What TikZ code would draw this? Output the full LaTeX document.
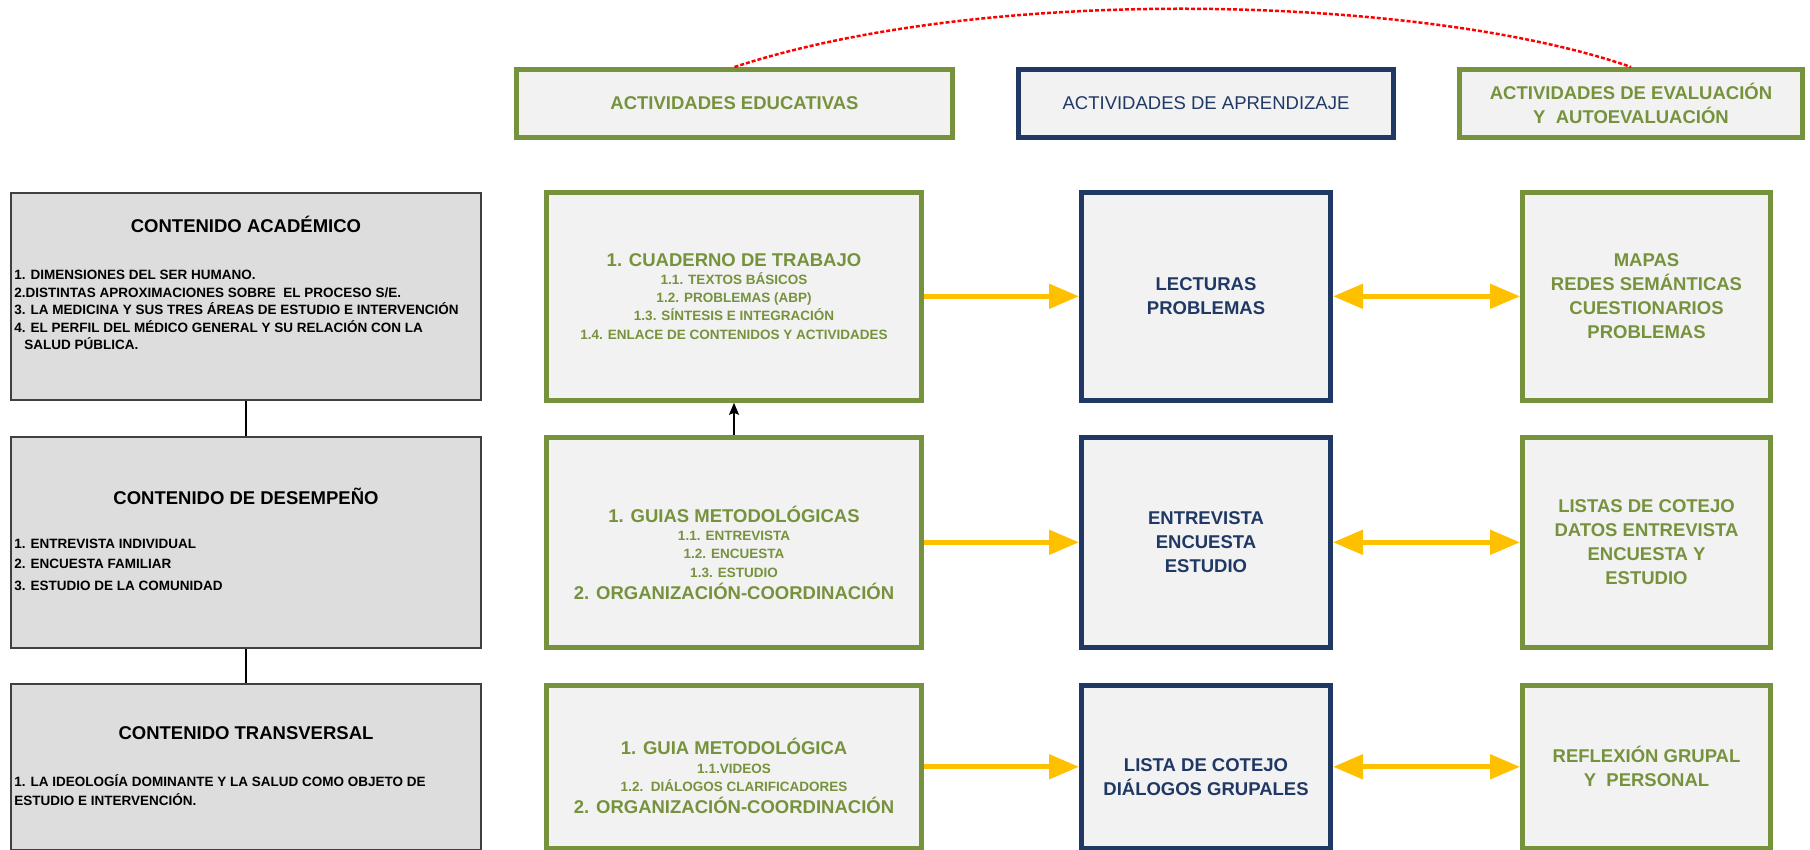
\documentclass[tikz,border=0pt]{standalone}
\usepackage{fontspec}
\setmainfont{Liberation Sans}
\usetikzlibrary{arrows.meta}

\definecolor{verde}{RGB}{118,146,60}
\definecolor{azul}{RGB}{31,56,100}
\definecolor{claro}{RGB}{242,242,242}
\definecolor{gris}{RGB}{221,221,221}
\definecolor{amarillo}{RGB}{255,192,0}

\newcommand{\grande}{\fontsize{18.5}{18.3}\selectfont}

\begin{document}
\begin{tikzpicture}[x=1pt,y=-1pt,>={Stealth[length=12pt,width=10pt,inset=2pt]},semithick,
    contenido/.style={draw=black!75,line width=2pt,fill=gris,minimum width=470pt},
    titulo/.style={anchor=base,font=\fontsize{18.5}{22}\selectfont\bfseries},
    lista/.style={anchor=north west,inner sep=0pt,align=left,
      font=\fontsize{13.5}{17.6}\selectfont\bfseries},
    caja/.style={line width=5pt,fill=claro,align=center,inner sep=2pt},
    educativa/.style={caja,draw=verde,text=verde,minimum width=375pt,
      font=\fontsize{13.5}{18.3}\selectfont\bfseries},
    aprendizaje/.style={caja,draw=azul,text=azul,minimum width=249pt,
      font=\fontsize{18.5}{24}\selectfont\bfseries},
    evaluacion/.style={caja,draw=verde,text=verde,minimum width=248pt,
      font=\fontsize{18.5}{24}\selectfont\bfseries},
    cabecera/.style={caja,minimum height=68pt,font=\fontsize{18.5}{24}\selectfont},
    flecha/.style={amarillo,line width=5pt,-{Triangle[length=30pt,width=24pt]}},
    doble/.style={amarillo,line width=5pt,
      {Triangle[length=30pt,width=24pt]}-{Triangle[length=30pt,width=24pt]}}]
  \useasboundingbox (0,0) rectangle (1810,849);

  \node[cabecera,draw=verde,text=verde,minimum width=436pt,
    font=\fontsize{18.5}{24}\selectfont\bfseries] (aed) at (734.5,103.5) {ACTIVIDADES EDUCATIVAS};
  \node[cabecera,draw=azul,text=azul,minimum width=375pt] (aap)
    [node distance=471.5pt,right of=aed] {ACTIVIDADES DE APRENDIZAJE};
  \node[cabecera,draw=verde,text=verde,minimum width=343pt,
    font=\fontsize{18.5}{24}\selectfont\bfseries] (aev)
    [node distance=425pt,right of=aap] {ACTIVIDADES DE EVALUACIÓN\\Y\ \ AUTOEVALUACIÓN};

  \node[contenido,minimum height=207pt] (ca) at (246,296.3) {};
  \node[contenido,minimum height=211pt] (cd) [node distance=246pt,below of=ca] {};
  \node[contenido,minimum height=166pt] (ct) [node distance=224.5pt,below of=cd] {};

  \node[titulo] (cat) at ([yshift=-40.6pt]ca.north) {CONTENIDO ACADÉMICO};
  \node[lista] (cal) at ([xshift=4pt,yshift=-78pt]ca.north west)
    {1. DIMENSIONES DEL SER HUMANO.\\
     2.DISTINTAS APROXIMACIONES SOBRE\ \ EL PROCESO S/E.\\
     3. LA MEDICINA Y SUS TRES ÁREAS DE ESTUDIO E INTERVENCIÓN\\
     4. EL PERFIL DEL MÉDICO GENERAL Y SU RELACIÓN CON LA\\
     \hspace*{10pt}SALUD PÚBLICA.};
  \node[titulo] (cdt) at ([yshift=-68.5pt]cd.north) {CONTENIDO DE DESEMPEÑO};
  \node[lista] (cdl) at ([xshift=4pt,yshift=-103pt]cd.north west)
    {1. ENTREVISTA INDIVIDUAL\\[1.9pt]2. ENCUESTA FAMILIAR\\[4.4pt]3. ESTUDIO DE LA COMUNIDAD};
  \node[titulo] (ctt) at ([yshift=-56.8pt]ct.north) {CONTENIDO TRANSVERSAL};
  \node[lista] (ctl) at ([xshift=4pt,yshift=-91pt]ct.north west)
    {1. LA IDEOLOGÍA DOMINANTE Y LA SALUD COMO OBJETO DE\\[1.4pt]ESTUDIO E INTERVENCIÓN.};

  \node[educativa,minimum height=208pt] (cu) [node distance=488pt,right of=ca]
    {{\grande 1. CUADERNO DE TRABAJO}\\1.1. TEXTOS BÁSICOS\\1.2. PROBLEMAS (ABP)\\
     1.3. SÍNTESIS E INTEGRACIÓN\\1.4. ENLACE DE CONTENIDOS Y ACTIVIDADES};
  \node[educativa,minimum height=210pt] (gm) [node distance=488pt,right of=cd]
    {\rule{0pt}{37pt}{\grande 1. GUIAS METODOLÓGICAS}\\1.1. ENTREVISTA\\1.2. ENCUESTA\\1.3. ESTUDIO\\[4pt]
     {\grande 2. ORGANIZACIÓN-COORDINACIÓN}};
  \node[educativa,minimum height=162.6pt] (gu) [node distance=488pt,right of=ct]
    {\rule{0pt}{35pt}{\grande 1. GUIA METODOLÓGICA}\\1.1.VIDEOS\\1.2.\ \ DIÁLOGOS CLARIFICADORES\\[4pt]
     {\grande 2. ORGANIZACIÓN-COORDINACIÓN}};

  \node[aprendizaje,minimum height=208pt] (lp) [node distance=472pt,right of=cu]
    {LECTURAS\\PROBLEMAS};
  \node[aprendizaje,minimum height=210pt] (ee) [node distance=472pt,right of=gm]
    {ENTREVISTA\\ENCUESTA\\ESTUDIO};
  \node[aprendizaje,minimum height=162.6pt] (ld) [node distance=472pt,right of=gu]
    {\rule{0pt}{33pt}LISTA DE COTEJO\\DIÁLOGOS GRUPALES};

  \node[evaluacion,minimum height=208pt] (mp) [node distance=440.5pt,right of=lp]
    {MAPAS\\REDES SEMÁNTICAS\\CUESTIONARIOS\\PROBLEMAS};
  \node[evaluacion,minimum height=210pt] (lc) [node distance=440.5pt,right of=ee]
    {LISTAS DE COTEJO\\DATOS ENTREVISTA\\ENCUESTA Y\\ESTUDIO};
  \node[evaluacion,minimum height=162.6pt] (rg) [node distance=440.5pt,right of=ld]
    {REFLEXIÓN GRUPAL\\Y\ \ PERSONAL};

  \path (ca) edge[line width=1.5pt] (cd)
  (cd) edge[line width=1.5pt] (ct)
  (gm) edge[->,line width=1.5pt] (cu)
  (cu) edge[flecha] (lp)
  (gm) edge[flecha] (ee)
  (gu) edge[flecha] (ld)
  (lp) edge[doble] (mp)
  (ee) edge[doble] (lc)
  (ld) edge[doble] (rg)
  ;
  \draw[red,line width=2.5pt,dash pattern=on 4pt off 2pt]
    (aed.north) .. controls +(260,-85) and +(-200,-70) .. (aev.north);
\end{tikzpicture}
\end{document}
